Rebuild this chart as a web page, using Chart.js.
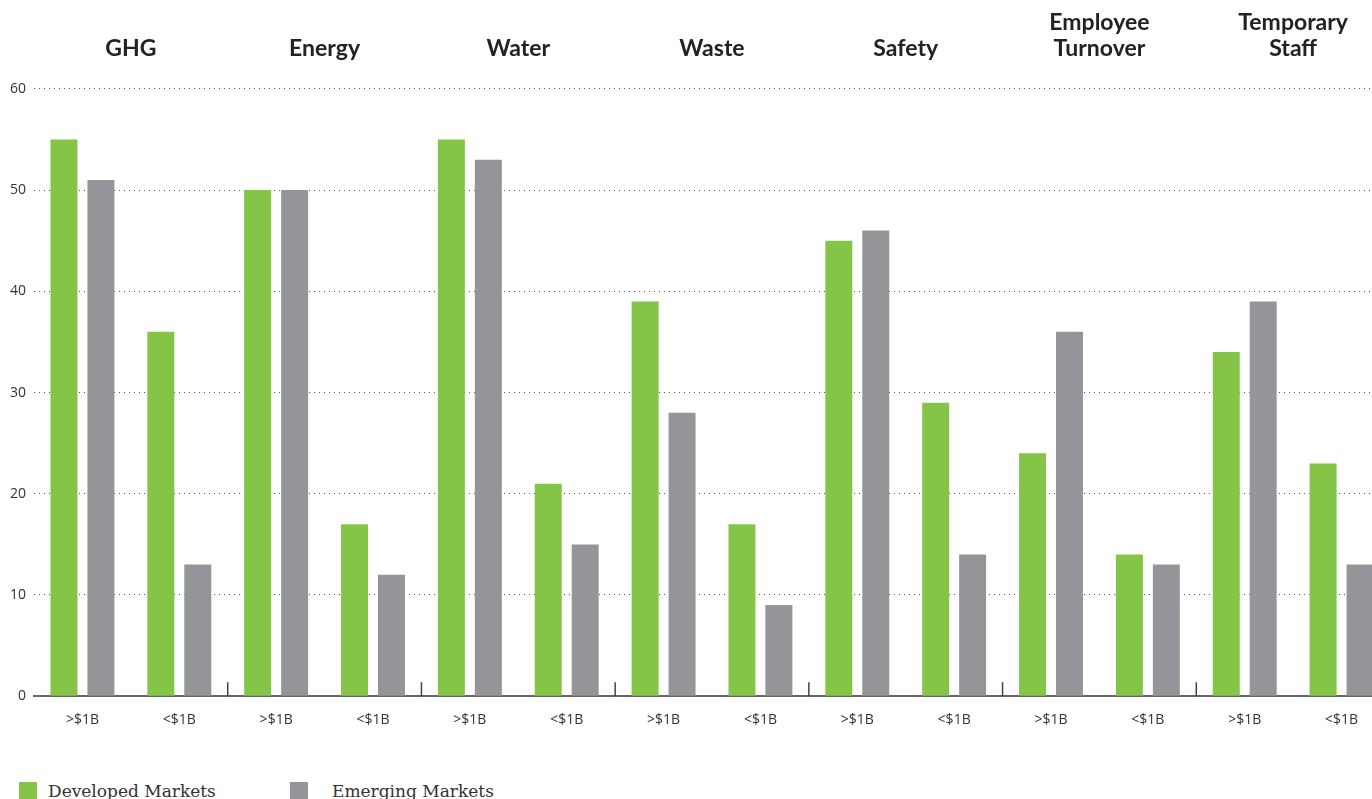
<!DOCTYPE html>
<html>
<head>
<meta charset="utf-8">
<script src="https://cdn.jsdelivr.net/npm/chart.js@4.4.1/dist/chart.umd.min.js"></script>
<style>
  html, body { margin: 0; padding: 0; background: #fff; overflow: hidden; }
  #wrap { position: relative; width: 1372px; height: 799px; overflow: hidden; }
  #box { position: absolute; left: 0; top: -18px; width: 1392px; height: 775px; }
  .leg { position: absolute; top: 781px; display: flex; align-items: flex-start;
         font-family: "DejaVu Serif", serif; font-size: 17px; color: #333; }
  .leg i { display: inline-block; width: 18px; height: 18px; margin-top: 1px; }
</style>
</head>
<body>
<div id="wrap">
  <div id="box"><canvas id="grafico"></canvas></div>
  <div class="leg" style="left:19px"><i style="background:#84c446; margin-right:11px"></i>Developed Markets</div>
  <div class="leg" style="left:290px"><i style="background:#949598; margin-right:24px"></i>Emerging Markets</div>
</div>
<script>
const grupos = ['GHG', 'Energy', 'Water', 'Waste', 'Safety', ['Employee', 'Turnover'], ['Temporary', 'Staff']];
const tamanhos = ['>$1B', '<$1B'];
const categorias = grupos.flatMap(() => tamanhos);

// pares (>$1B, <$1B) por grupo
const desenvolvidos = [55, 36, 50, 17, 55, 21, 39, 17, 45, 29, 24, 14, 34, 23];
const emergentes = [51, 13, 50, 12, 53, 15, 28, 9, 46, 14, 36, 13, 39, 13];

const yTicks = [0, 10, 20, 30, 40, 50, 60];

// marcas curtas entre os grupos, em cima do eixo zero
const separadores = {
  id: 'separadores',
  afterDatasetsDraw(chart) {
    const { ctx, scales: { x, y } } = chart;
    const y0 = y.getPixelForValue(0);
    ctx.save();
    ctx.strokeStyle = '#444';
    ctx.lineWidth = 1.5;
    for (let i = 2; i < categorias.length; i += 2) {
      const px = (x.getPixelForValue(i - 1) + x.getPixelForValue(i)) / 2;
      ctx.beginPath();
      ctx.moveTo(px, y0 - 14);
      ctx.lineTo(px, y0);
      ctx.stroke();
    }
    ctx.restore();
  }
};

const ctx = document.getElementById('grafico').getContext('2d');

new Chart(ctx, {
  type: 'bar',
  data: {
    labels: categorias,
    datasets: [
      {
        label: 'Developed Markets',
        data: desenvolvidos,
        backgroundColor: '#84c446',
        barPercentage: 0.73,
        categoryPercentage: 0.763,
      },
      {
        label: 'Emerging Markets',
        data: emergentes,
        backgroundColor: '#949598',
        barPercentage: 0.73,
        categoryPercentage: 0.763,
      },
    ],
  },
  options: {
    responsive: true,
    maintainAspectRatio: false,
    animation: false,
    layout: { padding: { left: 2, top: 0, right: 2, bottom: 22 } },
    plugins: {
      legend: { display: false },
      tooltip: { enabled: false },
    },
    scales: {
      x: {
        offset: true,
        grid: { display: false },
        border: { display: true, color: '#666', width: 2 },
        ticks: {
          autoSkip: false,
          maxRotation: 0,
          padding: 7,
          color: '#333',
          font: { family: 'Open Sans', size: 14 },
        },
      },
      x2: {
        type: 'category',
        position: 'top',
        labels: grupos,
        offset: true,
        grid: { display: false, drawTicks: false },
        border: { display: false },
        ticks: {
          autoSkip: false,
          maxRotation: 0,
          padding: 27,
          color: '#222',
          font: { family: 'Lato', size: 23, weight: 'bold', lineHeight: 1.15 },
        },
      },
      y: {
        min: 0,
        max: 60,
        afterBuildTicks: (scale) => { scale.ticks = yTicks.map(v => ({ value: v })); },
        grid: {
          drawTicks: false,
          lineWidth: 1,
          color: (c) => c.tick && c.tick.value === 0 ? 'rgba(0,0,0,0)' : '#555',
        },
        border: { display: false, dash: [1, 4] },
        ticks: {
          padding: 8,
          color: '#333',
          font: { family: 'Open Sans', size: 14 },
        },
      },
    },
  },
  plugins: [separadores],
});
</script>
</body>
</html>
